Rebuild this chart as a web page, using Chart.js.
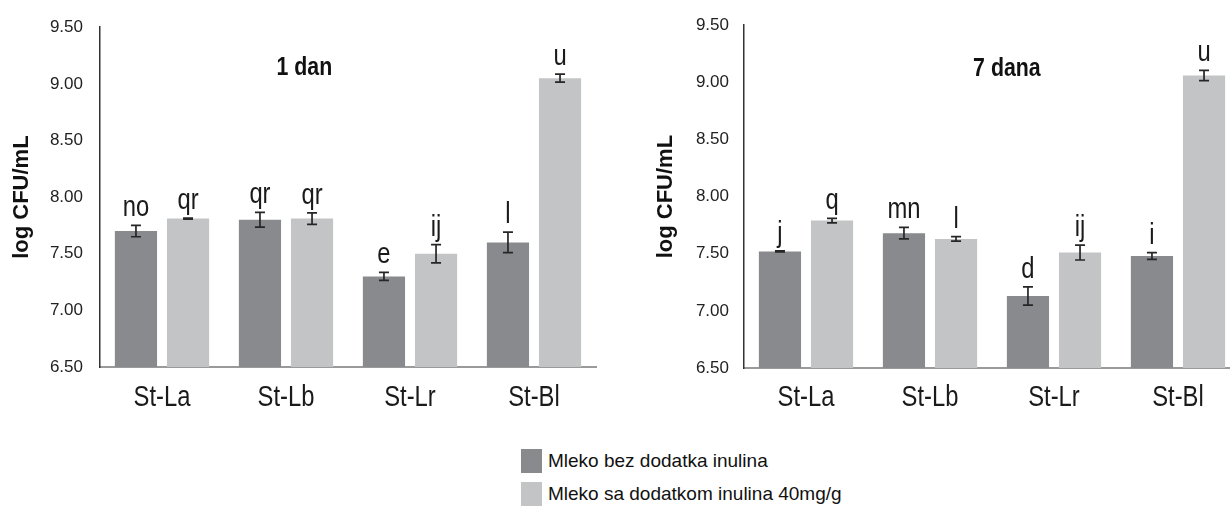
<!DOCTYPE html>
<html>
<head>
<meta charset="utf-8">
<script src="https://cdn.jsdelivr.net/npm/chart.js@4.4.1/dist/chart.umd.min.js"></script>
<style>
    html, body { margin: 0; padding: 0; background: #fff; overflow: hidden; }
    #wrap { position: relative; width: 1230px; height: 506px; overflow: hidden; }
    #c1 { position: absolute; left: 0; top: 0; }
    #c2 { position: absolute; left: 644px; top: 0; }
    #legend { position: absolute; left: 521px; top: 449px; font: 19px 'Liberation Sans', Arial, sans-serif; color: #111; }
    .item { display: flex; align-items: center; height: 24px; margin-bottom: 9px; white-space: nowrap; }
    .swatch { width: 21px; height: 24px; margin-right: 6px; }
</style>
</head>
<body>
<div id="wrap">
    <canvas id="c1" width="610" height="420"></canvas>
    <canvas id="c2" width="610" height="420"></canvas>
    <div id="legend"></div>
</div>
<script>
const categories = ['St-La', 'St-Lb', 'St-Lr', 'St-Bl'];
const seriesNames = ['Mleko bez dodatka inulina', 'Mleko sa dodatkom inulina 40mg/g'];
const seriesColors = ['#898a8d', '#c3c4c6'];

// 1 dan
const day1Plain = [7.70, 7.80, 7.30, 7.60];
const day1Inulin = [7.81, 7.81, 7.50, 9.05];
const day1PlainErr = [0.05, 0.065, 0.035, 0.09];
const day1InulinErr = [0.005, 0.05, 0.08, 0.035];
const day1PlainLetters = ['no', 'qr', 'e', 'l'];
const day1InulinLetters = ['qr', 'qr', 'ij', 'u'];

// 7 dana
const day7Plain = [7.52, 7.68, 7.13, 7.48];
const day7Inulin = [7.79, 7.63, 7.51, 9.06];
const day7PlainErr = [0.005, 0.05, 0.08, 0.03];
const day7InulinErr = [0.02, 0.02, 0.065, 0.045];
const day7PlainLetters = ['j', 'mn', 'd', 'i'];
const day7InulinLetters = ['q', 'l', 'ij', 'u'];

const yMin = 6.5;
const yMax = 9.5;
const yStep = 0.5;
const yTitle = 'log CFU/mL';

const regular = "'Liberation Sans', Arial, sans-serif";

// no narrow font installed, so squeeze the regular one
function narrowText(ctx, text, x, y, font) {
    ctx.save();
    ctx.font = font;
    ctx.translate(x, y);
    ctx.scale(0.82, 1);
    ctx.fillText(text, 0, 0);
    ctx.restore();
}

// error bars + significance letters
const errorBars = {
    id: 'errorBars',
    afterDatasetsDraw(chart) {
        const ctx = chart.ctx;
        const y = chart.scales.y;
        ctx.save();
        chart.data.datasets.forEach((ds, i) => {
            const meta = chart.getDatasetMeta(i);
            meta.data.forEach((bar, j) => {
                const v = ds.data[j];
                const e = ds.errors[j];
                const top = y.getPixelForValue(v + e);
                const bottom = y.getPixelForValue(v - e);
                ctx.strokeStyle = '#262626';
                ctx.lineWidth = 1.7;
                ctx.beginPath();
                ctx.moveTo(bar.x, top); ctx.lineTo(bar.x, bottom);
                ctx.moveTo(bar.x - 5, top); ctx.lineTo(bar.x + 5, top);
                ctx.moveTo(bar.x - 5, bottom); ctx.lineTo(bar.x + 5, bottom);
                ctx.stroke();

                ctx.fillStyle = '#1a1a1a';
                ctx.textAlign = 'center';
                ctx.textBaseline = 'alphabetic';
                narrowText(ctx, ds.letters[j], bar.x, top - 9, '29px ' + regular);
            });
        });
        ctx.restore();
    }
};

// category labels under the x axis + panel title
const panelText = {
    id: 'panelText',
    afterDraw(chart, args, opts) {
        const { ctx, chartArea } = chart;
        const x = chart.scales.x;
        ctx.save();
        ctx.fillStyle = '#1a1a1a';
        ctx.textAlign = 'center';
        ctx.textBaseline = 'alphabetic';
        chart.data.labels.forEach((lab, i) => {
            narrowText(ctx, lab, x.getPixelForValue(i), opts.labelY, '29px ' + regular);
        });
        ctx.fillStyle = '#111';
        ctx.textBaseline = 'middle';
        narrowText(ctx, opts.text, chartArea.left + chartArea.width * opts.xFrac, opts.y, 'bold 26px ' + regular);
        ctx.restore();
    }
};

function makeChart(id, plain, inulin, plainErr, inulinErr, plainLetters, inulinLetters, title, cfg) {
    return new Chart(document.getElementById(id), {
        type: 'bar',
        data: {
            labels: categories,
            datasets: [{
                label: seriesNames[0],
                data: plain,
                errors: plainErr,
                letters: plainLetters,
                backgroundColor: seriesColors[0]
            }, {
                label: seriesNames[1],
                data: inulin,
                errors: inulinErr,
                letters: inulinLetters,
                backgroundColor: seriesColors[1]
            }]
        },
        options: {
            responsive: false,
            animation: false,
            categoryPercentage: 0.84,
            barPercentage: 0.81,
            layout: { padding: { left: 0, right: 14, top: cfg.top, bottom: 0 } },
            plugins: {
                legend: { display: false },
                tooltip: { enabled: false },
                panelText: { text: title, xFrac: cfg.titleX, y: cfg.titleY, labelY: 406 }
            },
            scales: {
                x: {
                    grid: { display: false, drawTicks: false },
                    border: { display: true, color: '#9a9a9a', width: 2 },
                    ticks: { display: false },
                    afterFit: (s) => { s.height = cfg.xHeight; }
                },
                y: {
                    min: yMin,
                    max: yMax,
                    grid: { display: false, drawTicks: false },
                    border: { display: true, color: '#333', width: 1.5 },
                    ticks: {
                        stepSize: yStep,
                        font: { family: regular, size: 17 },
                        color: '#222',
                        padding: cfg.tickPad,
                        callback: (v) => v.toFixed(2)
                    },
                    title: {
                        display: true,
                        text: yTitle,
                        font: { family: regular, size: 22, weight: 'bold' },
                        color: '#111',
                        padding: { top: cfg.titlePad, bottom: 0 }
                    },
                    afterFit: (s) => { s.width = 100; }
                }
            }
        },
        plugins: [errorBars, panelText]
    });
}

makeChart('c1', day1Plain, day1Inulin, day1PlainErr, day1InulinErr, day1PlainLetters, day1InulinLetters, '1 dan',
    { top: 21, xHeight: 53, tickPad: 17, titlePad: 9, titleX: 0.412, titleY: 68 });
makeChart('c2', day7Plain, day7Inulin, day7PlainErr, day7InulinErr, day7PlainLetters, day7InulinLetters, '7 dana',
    { top: 22, xHeight: 52, tickPad: 15, titlePad: 9, titleX: 0.53, titleY: 69 });

// legend, stacked like the original
const legend = document.getElementById('legend');
seriesNames.forEach((name, i) => {
    const item = document.createElement('div');
    item.className = 'item';
    item.innerHTML = `<span class="swatch" style="background:${seriesColors[i]}"></span><span>${name}</span>`;
    legend.appendChild(item);
});
</script>
</body>
</html>
